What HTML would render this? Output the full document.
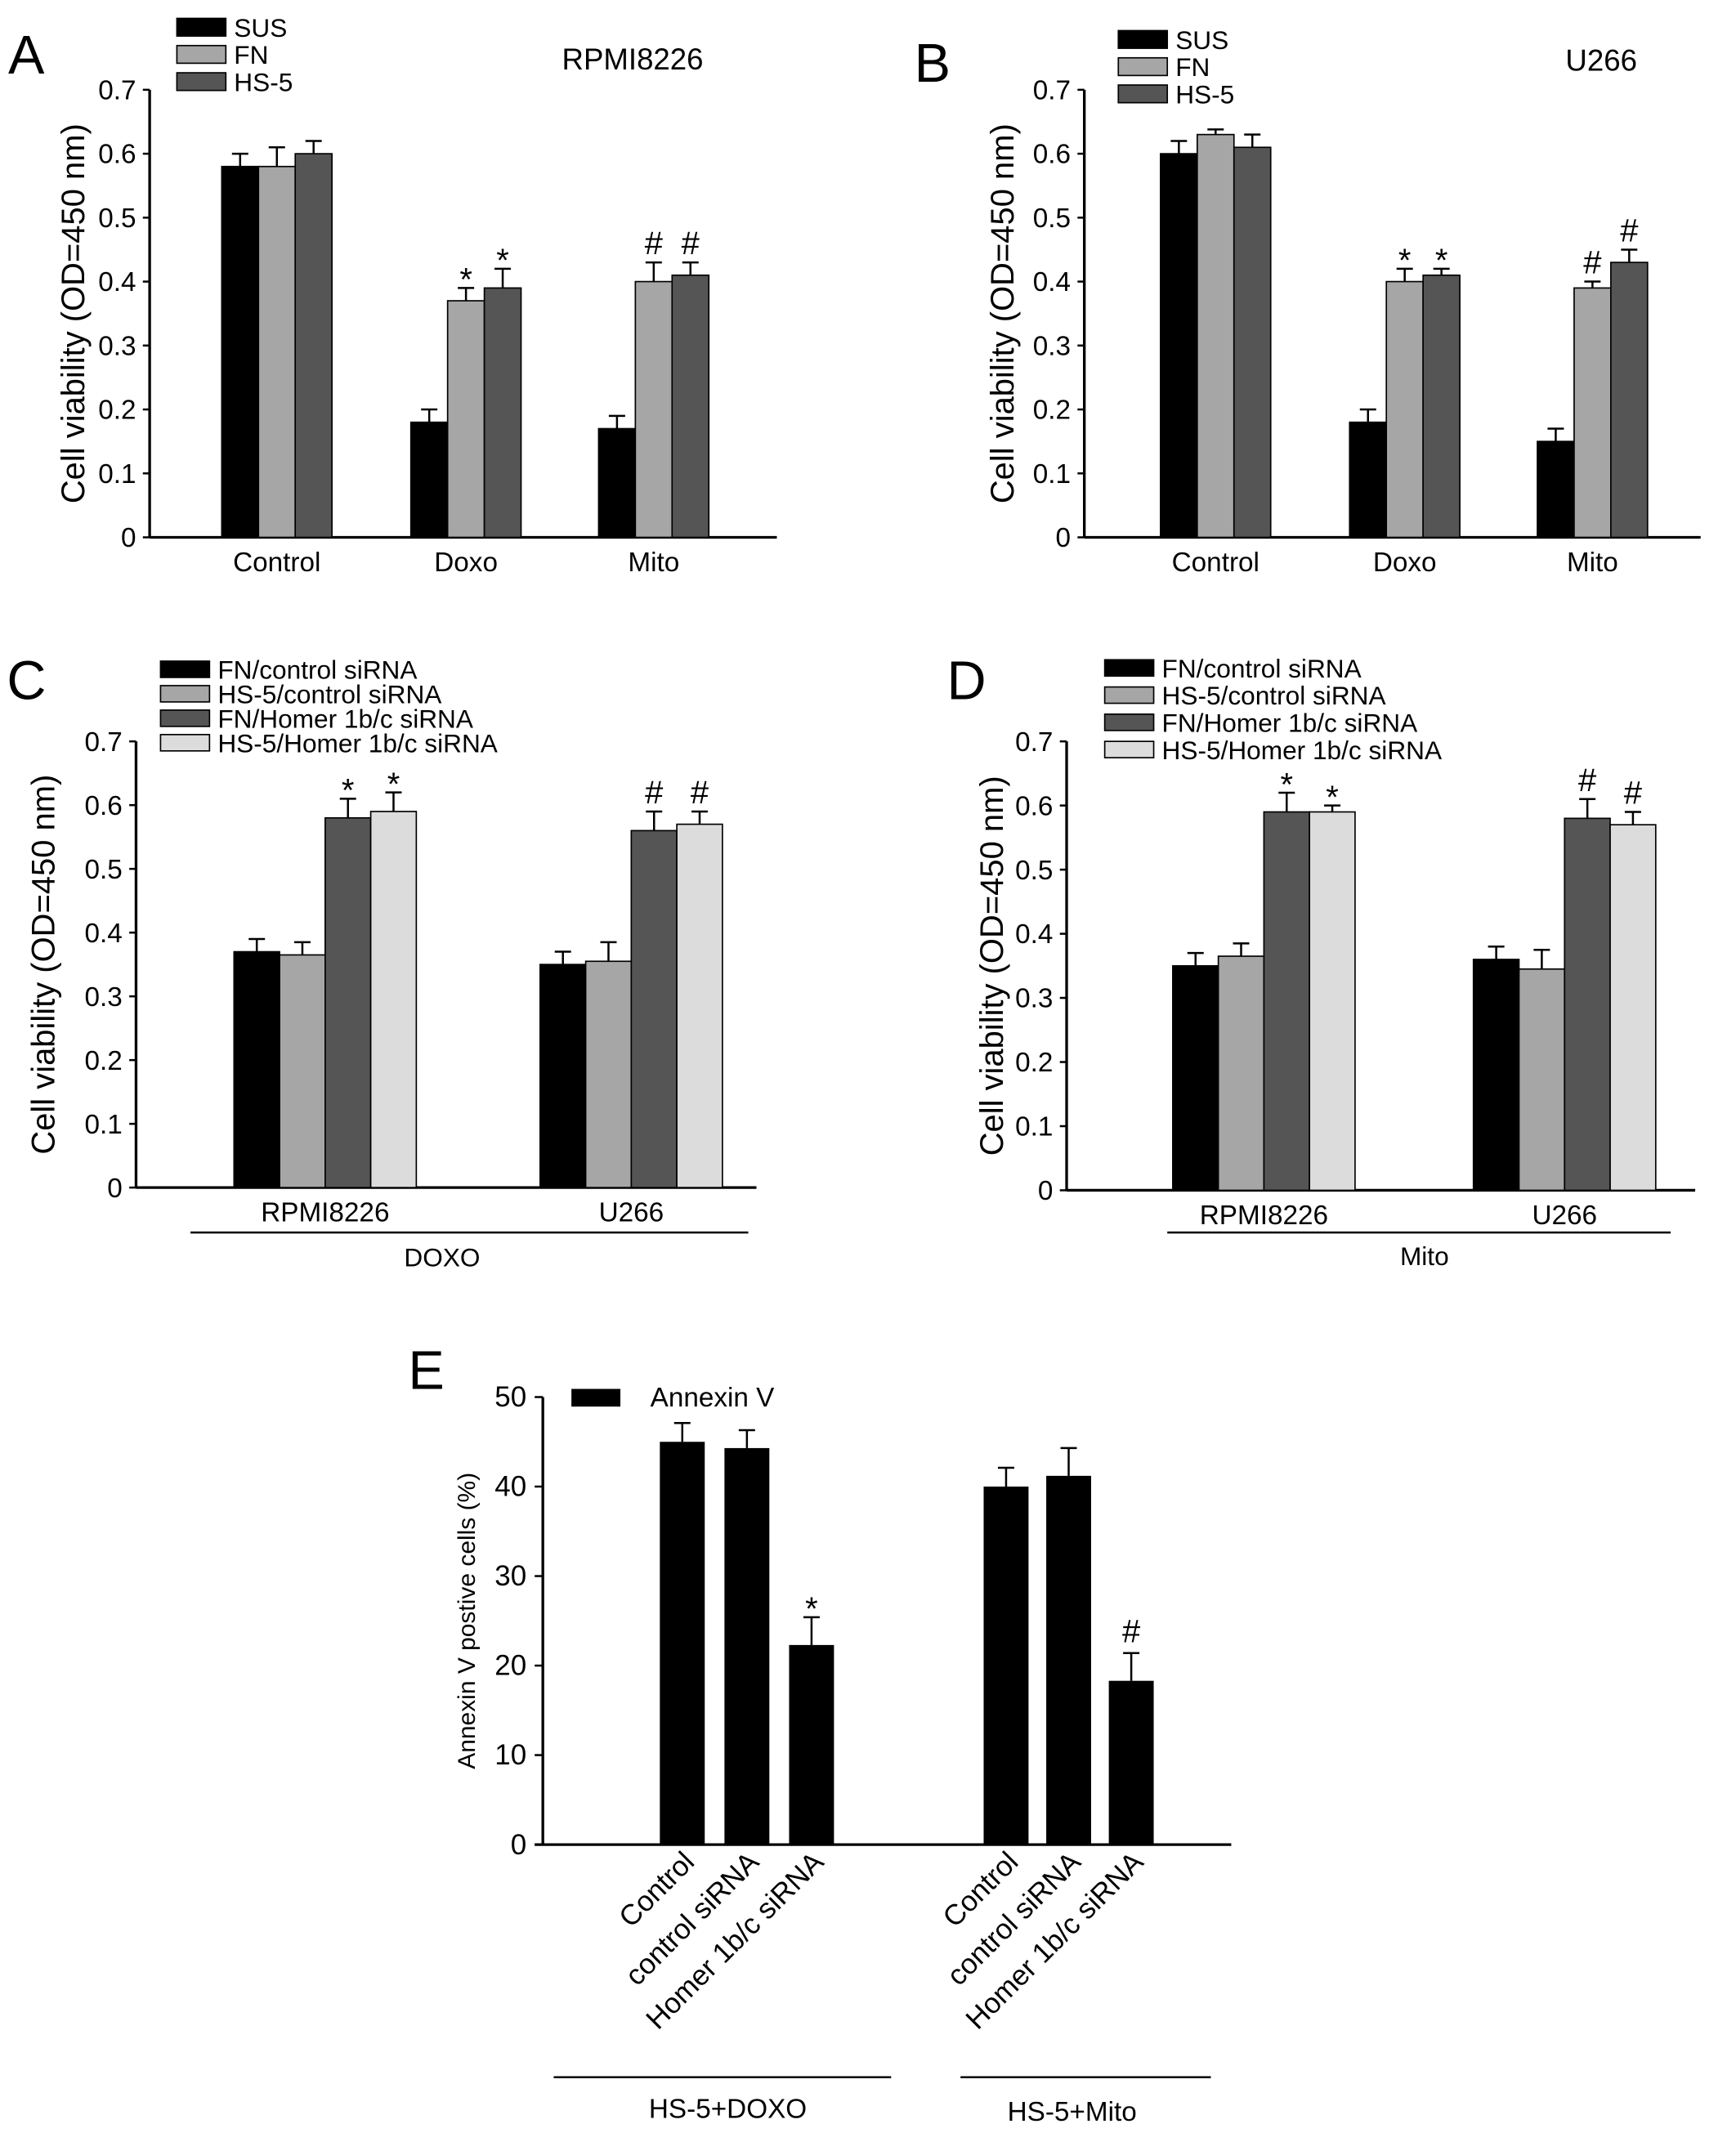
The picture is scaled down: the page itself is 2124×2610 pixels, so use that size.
<!DOCTYPE html>
<html><head><meta charset="utf-8"><style>
html,body{margin:0;padding:0;background:#fff}
svg{display:block}
text{font-family:"Liberation Sans",Arial,sans-serif;fill:#000}
</style></head><body>
<svg id="fig" xmlns="http://www.w3.org/2000/svg" width="2124" height="2610" viewBox="0 0 1276 1568" preserveAspectRatio="none">
<rect width="1276" height="1568" fill="#fff"/>
<g id="root"></g>
</svg>
<script>
// Panel A data
const aCategories = ["Control","Doxo","Mito"];
const aSeries = ["SUS","FN","HS-5"];
const aValues = [[0.58,0.58,0.60],[0.18,0.37,0.39],[0.17,0.40,0.41]];
const aErrors = [[0.02,0.03,0.02],[0.02,0.02,0.03],[0.02,0.03,0.02]];
const aMarks = [["","",""],["","*","*"],["","#","#"]];
// Panel B data
const bCategories = ["Control","Doxo","Mito"];
const bValues = [[0.60,0.63,0.61],[0.18,0.40,0.41],[0.15,0.39,0.43]];
const bErrors = [[0.02,0.008,0.02],[0.02,0.02,0.01],[0.02,0.01,0.02]];
const bMarks = [["","",""],["","*","*"],["","#","#"]];
// Panel C data
const cCategories = ["RPMI8226","U266"];
const cSeries = ["FN/control siRNA","HS-5/control siRNA","FN/Homer 1b/c siRNA","HS-5/Homer 1b/c siRNA"];
const cValues = [[0.37,0.365,0.58,0.59],[0.35,0.355,0.56,0.57]];
const cErrors = [[0.02,0.02,0.03,0.03],[0.02,0.03,0.03,0.02]];
const cMarks = [["","","*","*"],["","","#","#"]];
// Panel D data
const dCategories = ["RPMI8226","U266"];
const dValues = [[0.35,0.365,0.59,0.59],[0.36,0.345,0.58,0.57]];
const dErrors = [[0.02,0.02,0.03,0.01],[0.02,0.03,0.03,0.02]];
const dMarks = [["","","*","*"],["","","#","#"]];
// Panel E data
const eCategories = ["Control","control siRNA","Homer 1b/c siRNA","Control","control siRNA","Homer 1b/c siRNA"];
const eValues = [45,44.3,22.3,40,41.2,18.3];
const eErrors = [2.1,2.0,3.1,2.1,3.1,3.1];
const eMarks = ["","","*","","","#"];
const vTicks = ["0","0.1","0.2","0.3","0.4","0.5","0.6","0.7"];
const eTicks = ["0","10","20","30","40","50"];

const NS="http://www.w3.org/2000/svg";
const root=document.getElementById('root');
function el(tag,attrs,parent,txt){const e=document.createElementNS(NS,tag);for(const k in attrs)e.setAttribute(k,attrs[k]);if(txt!==undefined)e.textContent=txt;(parent||root).appendChild(e);return e;}

function panel(o){
  const g=el('g',{});
  
  
  const y=v=>o.y0-(v/o.vmax)*(o.y0-o.yTop);
  const ya=el('line',{x1:o.ax,y1:o.yTop,x2:o.ax,y2:o.y0,stroke:'#000','stroke-width':2},g);
  
  
  const xa=el('line',{x1:o.ax,y1:o.y0,x2:o.axEnd,y2:o.y0,stroke:'#000','stroke-width':2},g);
  
  
  o.ticks.forEach((t,i)=>{
    const v=parseFloat(t);
    el('line',{x1:o.ax-5,y1:y(v),x2:o.ax,y2:y(v),stroke:'#000','stroke-width':1.5},g);
    const tl=el('text',{x:o.ax-10,y:y(v)+7,'text-anchor':'end','font-size':o.tickFs},g,t);
    
    
  });
  const yt=el('text',{x:0,y:0,'text-anchor':'middle','font-size':o.titleFs,transform:`translate(${o.titleX},${(o.y0+o.yTop)/2}) rotate(-90)`},g,o.title);
  
  
  o.cats.forEach((c,ci)=>{
    const vals=o.values[ci];
    vals.forEach((v,si)=>{
      const x=o.groupX[ci]+si*o.bw;
      const b=el('rect',{x:x,y:y(v),width:o.bw,height:o.y0-y(v),fill:o.colors[si],stroke:'#000','stroke-width':1},g);
      
      
      const cx=x+o.bw/2, te=y(v+o.errors[ci][si]);
      el('line',{x1:cx,y1:y(v),x2:cx,y2:te,stroke:'#000','stroke-width':1.5},g);
      el('line',{x1:cx-6,y1:te,x2:cx+6,y2:te,stroke:'#000','stroke-width':1.5},g);
      const m=o.marks[ci][si];
      if(m){const mt=el('text',{x:cx,y:te-(m=='*'?-2:6),'text-anchor':'middle','font-size':24},g,m);
        
        }
    });
    const lx=o.groupX[ci]+vals.length*o.bw/2;
    const cl=el('text',{x:lx,y:o.y0+25,'text-anchor':'middle','font-size':o.tickFs},g,c);
    
    
  });
  o.series.forEach((s,i)=>{
    const ly=o.legY+i*o.legDy;
    el('rect',{x:o.legX,y:ly-o.legH/2,width:o.legW,height:o.legH,fill:o.colors[i],stroke:'#000','stroke-width':1},g);
    const t=el('text',{x:o.legX+o.legW+6,y:ly+7,'font-size':o.legFs},g,s);
    
    
  });
  return g;
}
const c3=['#000','#a6a6a6','#555'];
const c4=['#000','#a6a6a6','#555','#dcdcdc'];
panel({name:'panel-a',ax:110,axEnd:571,y0:395,yTop:66,vmax:0.7,ticks:vTicks,tickFs:20,titleFs:24,titleX:62,title:'Cell viability (OD=450 nm)',
  cats:aCategories,values:aValues,errors:aErrors,marks:aMarks,groupX:[163,302,440],bw:27,colors:c3,series:aSeries,legX:130,legY:20,legDy:20,legW:36,legH:13,legFs:19});
panel({name:'panel-b',ax:797,axEnd:1250,y0:395,yTop:66,vmax:0.7,ticks:vTicks,tickFs:20,titleFs:24,titleX:745,title:'Cell viability (OD=450 nm)',
  cats:bCategories,values:bValues,errors:bErrors,marks:bMarks,groupX:[853,992,1130],bw:27,colors:c3,series:aSeries,legX:822,legY:29,legDy:20,legW:36,legH:13,legFs:19});
panel({name:'panel-c',ax:100,axEnd:556,y0:873,yTop:545,vmax:0.7,ticks:vTicks,tickFs:20,titleFs:24,titleX:40,title:'Cell viability (OD=450 nm)',
  cats:cCategories,values:cValues,errors:cErrors,marks:cMarks,groupX:[172,397],bw:33.5,colors:c4,series:cSeries,legX:118,legY:492,legDy:18,legW:36,legH:12,legFs:19});
panel({name:'panel-d',ax:784,axEnd:1246,y0:875,yTop:545,vmax:0.7,ticks:vTicks,tickFs:20,titleFs:24,titleX:737,title:'Cell viability (OD=450 nm)',
  cats:dCategories,values:dValues,errors:dErrors,marks:dMarks,groupX:[862,1083],bw:33.5,colors:c4,series:cSeries,legX:812,legY:491,legDy:20,legW:36,legH:12,legFs:19});

function txt(x,y,s,fs,name,anchor){const t=el('text',{x:x,y:y,'font-size':fs,'text-anchor':anchor||'start'},root,s);
  
  }
txt(6,54,'A',40,'panel-label-a');
txt(672,60,'B',40,'panel-label-b');
txt(5,514,'C',40,'panel-label-c');
txt(696,514,'D',40,'panel-label-d');
txt(300,1021,'E',40,'panel-label-e');
txt(465,51,'RPMI8226',22,'title-rpmi8226','middle');
txt(1177,52,'U266',22,'title-u266','middle');
el('line',{x1:140,y1:906,x2:550,y2:906,stroke:'#000','stroke-width':1.5});
txt(325,931,'DOXO',19,'group-label-doxo','middle');
el('line',{x1:858,y1:906,x2:1228,y2:906,stroke:'#000','stroke-width':1.5});
txt(1047,930,'Mito',19,'group-label-mito','middle');

// Panel E
(function(){
  const ax=399,y0=1356,yTop=1027,vmax=50;
  const y=v=>y0-(v/vmax)*(y0-yTop);
  const eX=[485,723], bw=33;
  const ya=el('line',{x1:ax,y1:yTop,x2:ax,y2:y0,stroke:'#000','stroke-width':2});
  
  
  const xa=el('line',{x1:ax-6,y1:y0,x2:905,y2:y0,stroke:'#000','stroke-width':2});
  
  
  eTicks.forEach(t=>{const v=parseFloat(t);
    el('line',{x1:ax-6,y1:y(v),x2:ax,y2:y(v),stroke:'#000','stroke-width':1.5});
    const tl=el('text',{x:ax-12,y:y(v)+7,'text-anchor':'end','font-size':21},root,t);
    
    });
  const yt=el('text',{x:0,y:0,'text-anchor':'middle','font-size':18,transform:`translate(349,${(y0+yTop)/2})rotate(-90)`},root,'Annexin V postive cells (%)');
  
  
  eValues.forEach((v,i)=>{
    const x=(i<3?eX[0]:eX[1])+(i%3)*(i<3?47.5:46);
    const b=el('rect',{x:x,y:y(v),width:bw,height:y0-y(v),fill:'#000'});
    
    
    const cx=x+bw/2,te=y(v+eErrors[i]);
    el('line',{x1:cx,y1:y(v),x2:cx,y2:te,stroke:'#000','stroke-width':1.5});
    el('line',{x1:cx-6,y1:te,x2:cx+6,y2:te,stroke:'#000','stroke-width':1.5});
    if(eMarks[i]){const mt=el('text',{x:cx,y:te-(eMarks[i]=='*'?-2:8),'text-anchor':'middle','font-size':24},root,eMarks[i]);
      
      }
    const lt=el('text',{x:0,y:0,'text-anchor':'end','font-size':21,transform:`translate(${cx+10},${y0+14}) rotate(-45)`},root,eCategories[i]);
    
    
  });
  const lg=el('rect',{x:420,y:1021,width:36,height:13,fill:'#000'});
  
  
  txt(478,1034,'Annexin V',20,'legend-entry-annexin');
  el('line',{x1:407,y1:1527,x2:655,y2:1527,stroke:'#000','stroke-width':1.5});
  txt(535,1557,'HS-5+DOXO',20,'group-label-hs5-doxo','middle');
  el('line',{x1:706,y1:1527,x2:890,y2:1527,stroke:'#000','stroke-width':1.5});
  txt(788,1559,'HS-5+Mito',20,'group-label-hs5-mito','middle');
})();
</script>
</body></html>
